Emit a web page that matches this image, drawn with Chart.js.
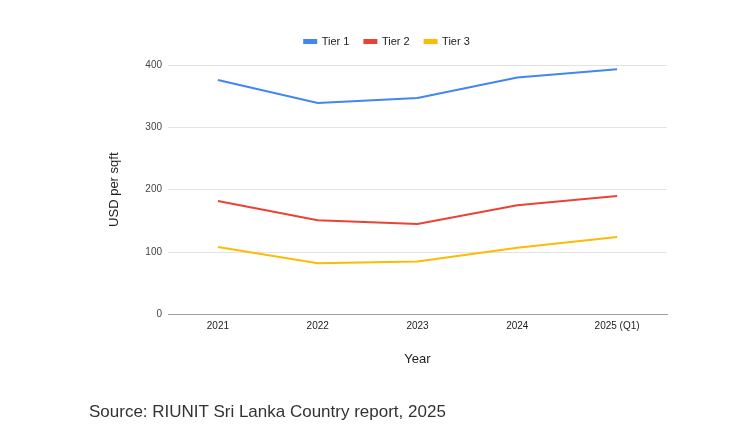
<!DOCTYPE html>
<html>
<head>
<meta charset="utf-8">
<script src="https://cdn.jsdelivr.net/npm/chart.js@4"></script>
<style>
  html, body { margin: 0; padding: 0; background: #fff; }
  .wrap { position: relative; width: 750px; height: 436px; }
  .source {
    position: absolute; left: 89px; top: 402px;
    font-family: "Liberation Sans", Arial, sans-serif; font-size: 17px;
    color: #333; white-space: nowrap;
  }
</style>
</head>
<body>
<div class="wrap">
  <canvas id="line-chart" width="750" height="436"></canvas>
  <div class="source">Source: RIUNIT Sri Lanka Country report, 2025</div>
</div>
<script>
const years = ['2021', '2022', '2023', '2024', '2025 (Q1)'];
const tier1 = [376, 339, 347, 380, 393];
const tier2 = [182, 151, 145, 175, 190];
const tier3 = [108, 82, 85, 107, 124];
const yTicks = [0, 100, 200, 300, 400];

const font = 'Liberation Sans, Arial, sans-serif';

// extra room under the legend, like the reference
const legendGap = {
  id: 'legendGap',
  afterInit(chart) {
    const fit = chart.legend.fit;
    chart.legend.fit = function () {
      fit.call(this);
      this.height += 8;
    };
  },
};

const ctx = document.getElementById('line-chart').getContext('2d');
new Chart(ctx, {
  type: 'line',
  data: {
    labels: years,
    datasets: [
      { label: 'Tier 1', data: tier1, borderColor: '#4285f4', backgroundColor: '#4285f4' },
      { label: 'Tier 2', data: tier2, borderColor: '#ea4335', backgroundColor: '#ea4335' },
      { label: 'Tier 3', data: tier3, borderColor: '#fbbc04', backgroundColor: '#fbbc04' },
    ],
  },
  options: {
    responsive: false,
    animation: false,
    layout: { padding: { left: 107, right: 83, top: 21, bottom: 68.5 } },
    elements: {
      line: { borderWidth: 2, tension: 0 },
      point: { radius: 0 },
    },
    plugins: {
      tooltip: { enabled: false },
      legend: {
        position: 'top',
        labels: {
          boxWidth: 12,
          boxHeight: 3,
          padding: 15,
          color: '#222',
          font: { family: font, size: 11 },
        },
      },
    },
    scales: {
      x: {
        offset: true,
        grid: { display: false, drawTicks: false },
        border: { display: true, color: '#9e9e9e' },
        ticks: { color: '#222', padding: 6, font: { family: font, size: 10 } },
        title: {
          display: true, text: 'Year', color: '#222',
          font: { family: font, size: 13 }, padding: { top: 13.5, bottom: 0 },
        },
      },
      y: {
        min: 0,
        max: 400,
        afterFit: (scale) => { scale.width = 61; },
        afterBuildTicks: (scale) => { scale.ticks = yTicks.map(v => ({ value: v })); },
        grid: {
          drawTicks: false,
          color: (c) => (c.tick && c.tick.value === 0 ? '#9e9e9e' : '#e3e3e3'),
        },
        border: { display: false },
        ticks: { color: '#444', padding: 6, font: { family: font, size: 10 } },
        title: {
          display: true, text: 'USD per sqft', color: '#222',
          font: { family: font, size: 13 }, padding: { top: 0, bottom: 0 },
        },
      },
    },
  },
  plugins: [legendGap],
});
</script>
</body>
</html>
